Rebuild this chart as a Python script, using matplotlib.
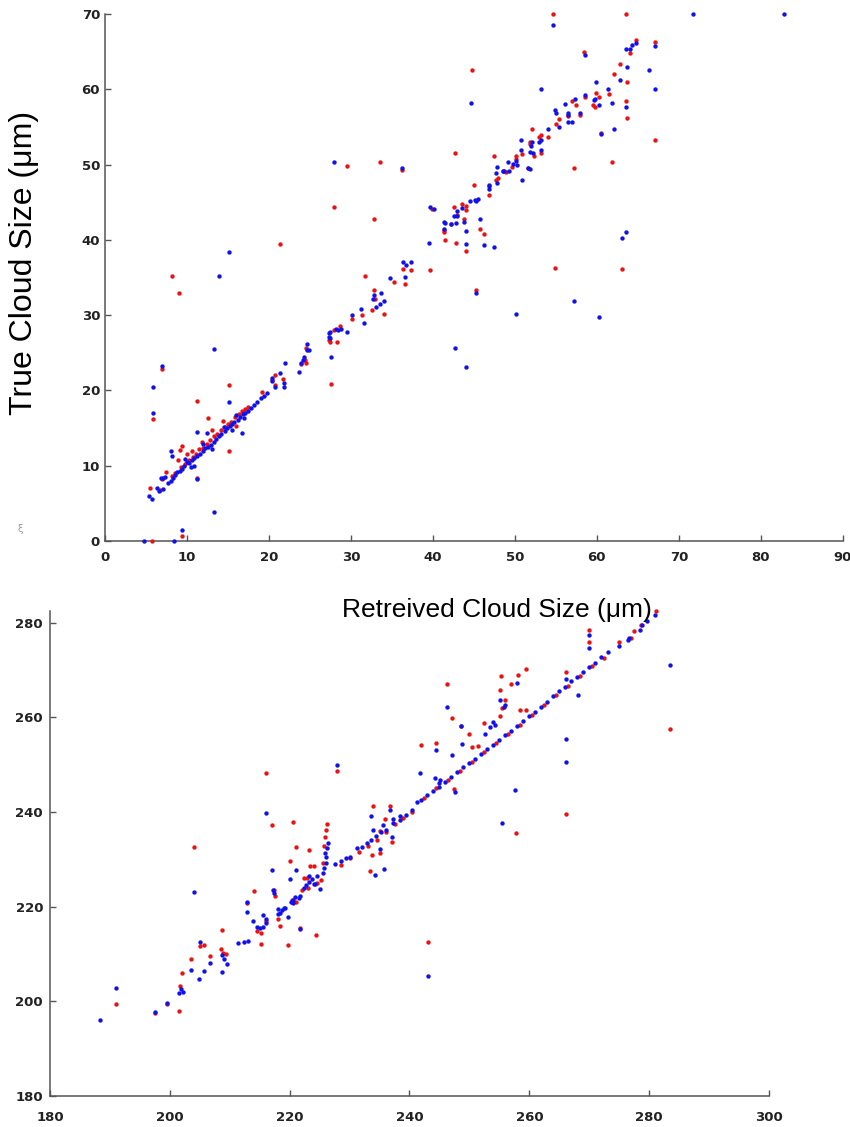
import numpy as np
import matplotlib
matplotlib.use("Agg")
import matplotlib.pyplot as plt

# top panel, blue retrievals (retrieved, true)
top_blue = [
    (82.8, 70), (71.7, 70), (54.6, 68.5),
    (64.8, 66.1), (64.3, 65.9), (64.0, 65.4), (63.5, 65.3), (67.1, 65.8), (58.5, 64.5),
    (63.7, 62.9), (66.4, 62.5), (62.8, 61.2), (59.9, 60.9), (67.1, 60.1), (53.2, 60.0), (61.4, 60.0), (58.5, 59.3),
    (57.3, 58.7), (59.6, 58.6), (59.8, 58.7), (44.7, 58.2), (56.1, 58.1), (60.3, 57.9), (61.9, 58.2), (63.5, 57.6),
    (54.9, 57.2), (55.0, 56.9), (56.5, 56.9), (56.5, 56.6), (58.0, 56.9), (55.4, 55.0), (56.5, 55.7), (57.0, 55.7),
    (54.1, 54.7), (53.2, 53.3), (53.0, 53.0), (50.8, 53.3), (52.0, 52.5), (52.1, 53.0), (60.5, 54.0), (62.1, 54.7),
    (50.8, 51.9), (51.8, 51.6), (52.2, 51.5), (53.2, 51.9), (49.2, 50.4), (50.1, 50.5), (49.8, 50.1), (50.2, 50.0),
    (47.8, 49.7), (47.7, 48.9), (48.5, 49.2), (48.7, 49.1), (49.3, 49.1), (51.6, 49.5), (51.8, 49.4), (50.9, 47.9),
    (47.8, 47.5), (46.8, 47.1), (46.8, 46.7), (46.9, 47.3), (44.5, 45.2), (45.1, 45.3), (45.5, 45.4), (45.3, 45.1),
    (43.5, 44.2), (43.0, 43.8), (42.6, 43.2), (42.9, 43.2), (39.7, 44.3), (40.1, 44.1),
    (41.3, 42.4), (41.5, 42.3), (42.2, 42.1), (42.8, 42.3), (43.8, 42.4), (41.4, 41.5), (44.1, 41.2), (45.7, 42.8),
    (39.5, 39.6), (44.0, 39.5), (46.2, 39.3), (47.4, 39.0), (63.6, 41.1), (63.1, 40.2),
    (45.2, 33.0), (57.2, 31.9), (50.1, 30.1), (60.3, 29.8), (42.7, 25.6), (44.1, 23.1),
    (27.9, 50.3), (36.2, 49.5), (15.1, 38.4), (13.9, 35.2),
    (36.3, 37.1), (36.7, 36.7), (37.3, 37.0), (34.8, 34.9), (36.6, 35.1),
    (32.8, 32.7), (32.7, 32.2), (33.7, 33.0), (34.0, 31.9), (33.5, 31.5), (33.0, 31.1), (31.2, 30.8), (31.6, 28.9),
    (30.1, 30.0), (29.5, 27.7), (28.2, 28.2), (28.4, 28.0), (28.8, 28.2), (27.3, 27.6), (27.5, 27.8), (27.3, 27.1),
    (27.5, 26.9), (27.6, 24.4), (24.6, 26.1), (24.7, 25.4), (24.9, 25.3), (24.3, 24.5), (24.1, 24.0), (23.9, 23.6),
    (23.7, 22.4), (21.9, 23.6), (21.3, 22.3), (21.8, 21.0), (21.8, 20.5), (20.4, 21.6), (20.4, 21.2), (20.8, 20.5),
    (15.1, 18.4), (11.2, 14.5), (13.3, 25.5), (5.9, 20.5), (5.8, 17.0), (6.9, 23.2), (13.3, 3.9), (9.4, 1.5),
    (4.7, 0.0), (8.4, 0.0), (16.7, 14.4), (11.2, 8.2), (8.1, 11.9), (8.2, 11.3),
    (5.4, 6.0), (5.7, 5.6), (6.4, 7.1), (6.6, 6.6), (7.1, 6.9), (6.8, 8.3), (7.1, 8.3), (7.3, 8.5), (7.7, 7.7),
    (8.0, 8.0), (8.3, 8.4), (8.5, 8.7), (8.8, 9.1), (9.1, 9.3), (9.4, 9.6), (9.6, 10.0), (10.0, 10.5), (10.3, 10.3),
    (10.6, 10.8), (10.9, 11.0), (11.2, 11.3), (11.6, 11.6), (11.9, 12.0), (12.2, 12.3), (12.6, 12.5), (12.9, 12.8),
    (13.3, 13.2), (13.6, 13.5), (13.9, 13.9), (14.2, 14.2), (14.6, 14.6), (14.9, 15.0), (15.2, 15.3), (15.5, 15.6),
    (15.8, 15.8), (16.2, 16.1), (16.5, 16.5), (16.8, 16.8), (17.1, 17.0), (17.5, 17.3), (17.8, 17.6), (18.2, 18.1),
    (18.6, 18.5), (19.0, 19.0), (19.4, 19.3), (19.8, 19.6),
    (9.8, 10.9), (10.5, 9.8), (12.0, 12.9), (13.0, 12.2), (14.5, 15.2), (15.5, 14.8), (16.0, 16.7), (17.0, 16.3),
    (12.5, 14.3), (10.8, 10.0),
]

# top panel, red retrievals
top_red = [
    (54.6, 70), (63.5, 70), (64.8, 66.6), (67.1, 66.3), (64.1, 64.8), (58.4, 64.9), (62.8, 63.4), (44.8, 62.5),
    (62.1, 62.0), (63.7, 60.9), (61.5, 59.4), (59.9, 59.5), (60.3, 59.0), (58.5, 59.0), (57.0, 58.5), (59.5, 57.9),
    (59.8, 57.7), (57.4, 57.9), (63.5, 58.4), (63.7, 56.2), (56.5, 56.4), (58.0, 56.6), (55.4, 56.0), (55.0, 55.4),
    (52.1, 54.7), (53.2, 53.9), (53.0, 53.7), (54.1, 53.7), (51.8, 53.0), (51.9, 52.7), (60.5, 54.2), (67.1, 53.3),
    (42.7, 51.5), (50.9, 51.4), (53.2, 51.5), (52.3, 51.1), (47.4, 51.2), (50.1, 51.2), (50.1, 50.7), (49.7, 49.7),
    (57.2, 49.6), (61.9, 50.4), (48.6, 49.2), (48.9, 49.0), (51.6, 49.6), (47.9, 48.2), (47.7, 47.9), (45.0, 47.3),
    (46.8, 46.0), (43.5, 44.7), (44.1, 44.5), (42.6, 44.4), (44.1, 44.0), (43.8, 42.8), (43.0, 43.3), (39.9, 44.1),
    (42.2, 42.1), (41.4, 41.3), (41.3, 41.1), (45.7, 41.4), (46.2, 40.8), (41.5, 40.0), (42.8, 39.6), (44.0, 38.5),
    (39.7, 36.0), (54.9, 36.3), (63.1, 36.1), (45.2, 33.4),
    (29.5, 49.8), (33.5, 50.4), (36.2, 49.3), (27.9, 44.4), (32.8, 42.7), (21.4, 39.4), (8.2, 35.2), (31.7, 35.2),
    (36.4, 36.1), (37.3, 36.0), (9.0, 33.0), (32.8, 33.4), (32.9, 32.1), (32.6, 30.7), (34.0, 30.2), (36.6, 34.1),
    (35.3, 34.4), (31.3, 30.0), (30.1, 29.5), (27.9, 28.0), (28.7, 28.5), (27.3, 26.7), (27.5, 26.4), (28.3, 26.4),
    (27.6, 20.8), (24.5, 25.6), (24.4, 24.0), (24.5, 23.7), (23.9, 23.5), (20.8, 22.0), (21.7, 21.5), (20.4, 21.4),
    (20.8, 20.7), (15.1, 20.7), (11.2, 18.6), (5.8, 16.2), (6.9, 22.8), (9.4, 0.6), (5.7, 0.0),
    (12.6, 16.3), (15.1, 12.0), (11.2, 8.3), (19.1, 19.8), (9.4, 12.6), (9.1, 12.1), (8.9, 10.8),
    (5.5, 7.0), (6.7, 6.8), (7.0, 8.2), (7.5, 9.2), (8.2, 8.6), (8.6, 9.0), (9.3, 9.8), (9.8, 10.2), (10.2, 10.8),
    (10.7, 11.1), (11.1, 11.6), (11.5, 12.2), (12.0, 12.4), (12.4, 12.9), (12.8, 13.4), (13.3, 13.9), (13.7, 14.2),
    (14.1, 14.7), (14.6, 15.2), (15.0, 15.5), (15.4, 15.8), (15.9, 16.4), (16.3, 16.8), (16.7, 17.2), (17.1, 17.5),
    (17.5, 17.8), (10.0, 11.5), (10.6, 12.0), (11.8, 13.2), (13.0, 14.7), (14.4, 16.0), (16.0, 15.3),
]

# bottom panel, blue retrievals
bot_blue = [
    (188.3, 196.1), (191.1, 202.9), (197.5, 197.8), (199.6, 199.7), (201.6, 201.7), (202.2, 201.9), (201.8, 202.6),
    (203.6, 206.6), (204.0, 223.2), (204.9, 204.7), (205.0, 212.6), (205.7, 206.5), (206.7, 208.2), (208.7, 209.7),
    (209.1, 209.0), (209.5, 207.9), (208.7, 206.2),
    (211.3, 212.4), (212.4, 212.6), (213.1, 212.8), (212.9, 221.1), (212.9, 218.8), (213.9, 217.0), (214.5, 215.8),
    (215.1, 215.5), (215.6, 215.8), (216.1, 216.5), (215.6, 218.3), (216.1, 217.4),
    (216.1, 239.9), (217.0, 227.8), (217.4, 222.9), (217.2, 223.6), (218.1, 219.5), (218.4, 218.6), (218.7, 219.3),
    (219.0, 219.7), (219.2, 219.7), (218.0, 218.5), (219.8, 217.9), (220.1, 225.8),
    (220.3, 221.0), (220.6, 221.5), (220.9, 222.0), (220.5, 220.7), (221.7, 215.3), (221.1, 227.7), (221.5, 221.8),
    (221.7, 222.2), (222.4, 224.0), (222.8, 224.6), (223.2, 225.2), (223.7, 225.8), (224.2, 224.8), (224.6, 226.4),
    (223.3, 226.4), (224.0, 224.8), (225.0, 223.8),
    (226.4, 233.4), (226.2, 232.4), (225.9, 231.3), (226.1, 230.5), (226.0, 229.3), (225.8, 228.2), (225.6, 227.1),
    (227.9, 249.9), (227.5, 229.0), (228.6, 229.6), (229.4, 230.2), (230.1, 230.6), (231.2, 232.4), (232.0, 232.6),
    (232.9, 233.4), (233.6, 234.2), (234.4, 235.0), (235.2, 235.8), (236.0, 236.3), (237.3, 237.7), (238.4, 238.4),
    (239.5, 239.4), (240.5, 240.5), (241.2, 242.2),
    (233.6, 239.1), (233.9, 236.2), (236.8, 240.5), (237.3, 238.5), (238.4, 239.1), (235.6, 237.3), (237.1, 234.8),
    (235.1, 232.2), (234.3, 226.7), (235.7, 227.9),
    (241.8, 248.2), (243.1, 205.4), (244.4, 253.2), (247.1, 252.0), (244.2, 247.3), (245.0, 246.1),
    (245.1, 246.8), (247.6, 244.2), (246.2, 262.2), (248.6, 258.1), (248.8, 254.4),
    (242.0, 242.5), (243.0, 243.6), (244.0, 244.5), (245.0, 245.4), (246.0, 246.4), (247.0, 247.5), (248.0, 248.5),
    (249.0, 249.5), (250.0, 250.4), (251.0, 251.3), (252.0, 252.3), (253.0, 253.3), (254.0, 254.2), (255.0, 255.3),
    (256.0, 256.3), (257.0, 257.2), (258.0, 258.1), (259.0, 259.2), (260.0, 260.2), (261.0, 261.1), (262.0, 262.3),
    (263.0, 263.3), (264.0, 264.6), (265.0, 265.5), (266.0, 266.5), (267.0, 267.6), (268.0, 268.6), (269.0, 269.5),
    (270.0, 270.6), (271.0, 271.6), (272.0, 272.7), (273.2, 273.9),
    (252.6, 256.5), (255.1, 263.7), (255.7, 262.3), (256.0, 262.7), (258.0, 267.3), (257.6, 244.6), (255.5, 237.7),
    (266.1, 255.4), (266.1, 250.5), (266.1, 268.2), (268.2, 264.8), (269.9, 277.4), (269.9, 274.6), (283.4, 271.1),
    (274.9, 275.0), (276.5, 276.4), (276.7, 276.8), (278.5, 278.5), (278.8, 279.6), (279.6, 280.3), (281.0, 281.6),
    (253.5, 258.0), (254.0, 259.0), (254.3, 258.5),
]

# bottom panel, red retrievals
bot_red = [
    (191.1, 199.4), (197.5, 197.6), (199.6, 199.5), (201.6, 198.0), (201.7, 203.3), (202.1, 205.9), (203.6, 209.0),
    (204.1, 232.7), (205.0, 211.7), (205.7, 211.9), (206.7, 209.5), (208.7, 215.0), (208.5, 211.0), (208.9, 210.3),
    (209.4, 210.0),
    (212.9, 220.8), (214.1, 223.4), (214.5, 214.8), (215.3, 214.4), (216.1, 216.9), (215.2, 212.1), (216.1, 248.3),
    (217.0, 237.3), (217.4, 223.6), (217.5, 222.2), (218.1, 217.4), (218.4, 215.9), (219.8, 211.9), (220.1, 229.6),
    (220.5, 237.8), (221.1, 232.7), (223.3, 231.9), (223.4, 228.5), (224.0, 228.5), (222.9, 226.0), (222.4, 226.0),
    (221.7, 215.6), (224.4, 214.0), (220.4, 221.5), (221.0, 221.0), (222.0, 223.5), (223.0, 224.0), (224.5, 225.0),
    (225.2, 225.7),
    (226.3, 237.5), (226.1, 236.2), (225.9, 234.8), (225.7, 232.9), (225.5, 229.2), (227.9, 248.7),
    (228.5, 228.9), (230.0, 230.2), (231.5, 231.6), (233.0, 232.8), (234.5, 234.2), (236.0, 235.7), (237.5, 237.4),
    (239.0, 238.8), (240.5, 240.1),
    (233.9, 241.2), (236.8, 241.2), (235.1, 236.1), (237.1, 233.6), (233.8, 231.0), (235.0, 231.3), (233.4, 227.6),
    (235.9, 238.5),
    (241.9, 254.2), (243.1, 212.6), (244.4, 254.6), (246.2, 267.1), (247.1, 259.9), (248.6, 258.1), (249.9, 256.5),
    (250.4, 253.7), (251.5, 253.9), (252.5, 258.8), (247.5, 244.9),
    (255.1, 260.3), (255.4, 262.0), (256.0, 263.6), (255.1, 265.8), (258.5, 261.6), (259.5, 261.5), (255.3, 268.7),
    (257.0, 267.0), (258.1, 268.9), (259.4, 270.2), (257.7, 235.5), (266.1, 239.6), (266.1, 269.7), (269.9, 278.5),
    (269.9, 275.9), (283.4, 257.5),
    (242.5, 243.0), (244.5, 245.0), (246.5, 246.8), (248.5, 248.7), (250.5, 250.6), (252.5, 252.7), (254.5, 254.5),
    (256.5, 256.5), (258.5, 258.4), (260.5, 260.5), (262.5, 262.6), (264.5, 264.8), (266.5, 266.7), (268.5, 268.7),
    (270.5, 270.8), (272.5, 272.6),
    (274.9, 275.9), (277.0, 276.8), (277.4, 278.2), (278.6, 279.6), (281.2, 282.4),
]

top_xticks = [0, 10, 20, 30, 40, 50, 60, 70, 80, 90]
top_yticks = [0, 10, 20, 30, 40, 50, 60, 70]
bot_xticks = [180, 200, 220, 240, 260, 280, 300]
bot_yticks = [180, 200, 220, 240, 260, 280]

RED = '#ee1111'
BLUE = '#1111ee'
AXC = '#555555'

fig = plt.figure(figsize=(8.5, 11.27), dpi=100)


def style(ax, xt, yt, xpad, ypad):
    ax.spines['top'].set_visible(False)
    ax.spines['right'].set_visible(False)
    for s in ('left', 'bottom'):
        ax.spines[s].set_color(AXC)
        ax.spines[s].set_linewidth(1.1)
    ax.set_xticks(xt)
    ax.set_yticks(yt)
    ax.tick_params(direction='in', length=4, width=1.0, color=AXC,
                   labelsize=9.5, labelcolor='#222222')
    ax.tick_params(axis='x', pad=xpad)
    ax.tick_params(axis='y', pad=ypad)
    for lab in ax.get_xticklabels() + ax.get_yticklabels():
        lab.set_fontweight('bold')


def draw(ax, red, blue):
    r = np.array(red)
    b = np.array(blue)
    ax.scatter(r[:, 0], r[:, 1], s=10, c=RED, linewidths=0, clip_on=False, zorder=3)
    ax.scatter(b[:, 0], b[:, 1], s=10, c=BLUE, linewidths=0, clip_on=False, zorder=4)


ax1 = fig.add_axes([0.1235, 0.520, 0.868, 0.4676])
draw(ax1, top_red, top_blue)
ax1.set_xlim(0, 90)
ax1.set_ylim(0, 70)
style(ax1, top_xticks, top_yticks, 7.5, 3.5)

ax2 = fig.add_axes([0.0588, 0.0275, 0.8459, 0.4304])
draw(ax2, bot_red, bot_blue)
ax2.set_xlim(180, 300)
ax2.set_ylim(180, 282.5)
style(ax2, bot_xticks, bot_yticks, 10.5, 5)

fig.text(0.028, 0.7666, 'True Cloud Size (μm)', rotation=90, ha='center', va='center',
         fontsize=23, family='Liberation Sans', color='black')
fig.text(0.5847, 0.4525, 'Retreived Cloud Size (μm)', ha='center', va='baseline',
         fontsize=19, family='Liberation Sans', color='black')
fig.text(0.024, 0.531, 'ξ', ha='center', va='center', fontsize=7, color='#999999')

fig.savefig('out.png', dpi=100)
